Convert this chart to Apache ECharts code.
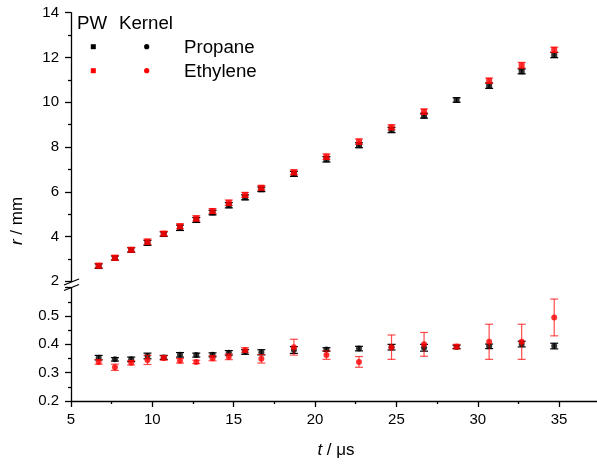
<!DOCTYPE html>
<html>
<head>
<meta charset="utf-8">
<script src="https://cdn.jsdelivr.net/npm/echarts@6/dist/echarts.min.js"></script>
<style>
  html, body { margin: 0; padding: 0; background: #fff; }
  #chart { width: 597px; height: 465px; }
</style>
</head>
<body>
<div id="chart"></div>
<script>
// Time after ignition, µs
const times = [6.7, 7.7, 8.7, 9.7, 10.7, 11.7, 12.7, 13.7, 14.7, 15.7, 16.7,
               18.7, 20.7, 22.7, 24.7, 26.7, 28.7, 30.7, 32.7, 34.7];

// Pressure-wave radius r (mm) and its uncertainty
const pwPropane     = [2.68, 3.04, 3.40, 3.72, 4.11, 4.39, 4.74, 5.07, 5.40, 5.75, 6.11,
                       6.80, 7.45, 8.08, 8.76, 9.40, 10.10, 10.74, 11.38, 12.11];
const pwPropaneErr  = [0.10, 0.09, 0.10, 0.11, 0.10, 0.12, 0.11, 0.10, 0.12, 0.11, 0.10,
                       0.11, 0.12, 0.11, 0.12, 0.11, 0.10, 0.12, 0.11, 0.12];
const pwEthylene    = [2.70, 3.05, 3.41, 3.77, 4.13, 4.46, 4.81, 5.14, 5.51, 5.86, 6.18,
                       6.87, 7.57, 8.24, 8.88, 9.58, null, 10.96, 11.65, 12.34];
const pwEthyleneErr = [0.10, 0.11, 0.10, 0.12, 0.10, 0.11, 0.12, 0.11, 0.12, 0.11, 0.10,
                       0.11, 0.12, 0.12, 0.11, 0.12, null, 0.12, 0.13, 0.12];

// Kernel radius r (mm) and its uncertainty
const kernelPropane     = [0.353, 0.347, 0.347, 0.359, 0.354, 0.363, 0.362, 0.363, 0.370, 0.373, 0.372,
                           0.380, 0.382, 0.385, 0.390, 0.388, 0.391, 0.393, 0.401, 0.394];
const kernelPropaneErr  = [0.008, 0.006, 0.008, 0.010, 0.007, 0.008, 0.007, 0.007, 0.008, 0.008, 0.009,
                           0.012, 0.006, 0.008, 0.010, 0.012, 0.006, 0.008, 0.010, 0.010];
const kernelEthylene    = [0.338, 0.319, 0.335, 0.345, 0.352, 0.342, 0.338, 0.351, 0.356, 0.380, 0.349,
                           0.390, 0.362, 0.338, 0.390, 0.400, 0.392, 0.409, 0.409, 0.495];
const kernelEthyleneErr = [0.008, 0.011, 0.008, 0.016, 0.008, 0.008, 0.006, 0.009, 0.010, 0.008, 0.015,
                           0.028, 0.015, 0.019, 0.043, 0.042, 0.008, 0.062, 0.062, 0.065];

// Axis tick values
const xTicks = [5, 10, 15, 20, 25, 30, 35];
const upperTicks = [2, 4, 6, 8, 10, 12, 14];
const lowerTicks = [0.2, 0.3, 0.4, 0.5];

const FONT = 'Liberation Sans, Arial, sans-serif';
const BLACK = '#000000';
const RED = '#ff0000';
const RED_BAR = 'rgba(255,0,0,0.7)';

function points(values, errs) {
  const out = [];
  times.forEach((t, i) => {
    if (values[i] != null) out.push([t, values[i], errs[i]]);
  });
  return out;
}

function errorBarRenderer(color) {
  return function (params, api) {
    const x = api.value(0), y = api.value(1), e = api.value(2);
    const hi = api.coord([x, y + e]);
    const lo = api.coord([x, y - e]);
    const half = 4;
    const style = { stroke: color, lineWidth: 1.2, fill: null };
    return {
      type: 'group',
      children: [
        { type: 'line', shape: { x1: hi[0], y1: hi[1], x2: lo[0], y2: lo[1] }, style },
        { type: 'line', shape: { x1: hi[0] - half, y1: hi[1], x2: hi[0] + half, y2: hi[1] }, style },
        { type: 'line', shape: { x1: lo[0] - half, y1: lo[1], x2: lo[0] + half, y2: lo[1] }, style }
      ]
    };
  };
}

const axisLineStyle = { color: BLACK, width: 1.3 };

const chart = echarts.init(document.getElementById('chart'), null, { renderer: 'canvas' });

// the x range runs past the right edge of the canvas, so the plot area is sized explicitly
const xCommon = {
  type: 'value', min: 5, max: 40, interval: 5,
  splitLine: { show: false }
};

chart.setOption({
  animation: false,
  backgroundColor: '#ffffff',
  grid: [
    { left: 71, width: 569.45, top: 12.7, height: 268.6, outerBoundsMode: 'none', containLabel: false },
    { left: 71, width: 569.45, top: 287.7, height: 113.3, outerBoundsMode: 'none', containLabel: false }
  ],
  xAxis: [
    Object.assign({}, xCommon, { gridIndex: 0, show: false }),
    Object.assign({}, xCommon, {
      gridIndex: 1,
      axisLine: { show: true, onZero: false, lineStyle: axisLineStyle },
      axisTick: { show: true, inside: false, length: 6, lineStyle: axisLineStyle },
      minorTick: { show: true, splitNumber: 2, length: 3, lineStyle: axisLineStyle },
      axisLabel: { show: true, margin: 11, fontSize: 15, fontFamily: FONT, color: BLACK,
                   formatter: v => (xTicks.indexOf(v) >= 0 ? String(v) : '') }
    })
  ],
  yAxis: [
    {
      type: 'value', gridIndex: 0, min: 2, max: 14, interval: 2,
      splitLine: { show: false },
      axisLine: { show: true, onZero: false, lineStyle: axisLineStyle },
      axisTick: { show: true, inside: false, length: 6, lineStyle: axisLineStyle },
      minorTick: { show: true, splitNumber: 2, length: 3, lineStyle: axisLineStyle },
      axisLabel: { margin: 12, fontSize: 15, fontFamily: FONT, color: BLACK,
                   formatter: v => (upperTicks.indexOf(v) >= 0 ? String(v) : '') }
    },
    {
      type: 'value', gridIndex: 1, min: 0.2, max: 0.6, interval: 0.1,
      splitLine: { show: false },
      axisLine: { show: true, onZero: false, lineStyle: axisLineStyle },
      axisTick: { show: true, inside: false, length: 6, lineStyle: axisLineStyle },
      minorTick: { show: true, splitNumber: 2, length: 3, lineStyle: axisLineStyle },
      axisLabel: { margin: 12, fontSize: 15, fontFamily: FONT, color: BLACK,
                   formatter: v => {
                     const hit = lowerTicks.find(t => Math.abs(t - v) < 1e-6);
                     return hit != null ? hit.toFixed(1) : '';
                   } }
    }
  ],
  series: [
    // pressure wave
    { name: 'PW Propane error', type: 'custom', xAxisIndex: 0, yAxisIndex: 0, z: 2, silent: true,
      renderItem: errorBarRenderer(BLACK), encode: { x: 0, y: 1 },
      data: points(pwPropane, pwPropaneErr) },
    { name: 'PW Propane', type: 'scatter', xAxisIndex: 0, yAxisIndex: 0, z: 3, silent: true,
      symbol: 'rect', symbolSize: 6, itemStyle: { color: BLACK },
      data: points(pwPropane, pwPropaneErr).map(p => [p[0], p[1]]) },
    { name: 'PW Ethylene error', type: 'custom', xAxisIndex: 0, yAxisIndex: 0, z: 4, silent: true,
      renderItem: errorBarRenderer(RED_BAR), encode: { x: 0, y: 1 },
      data: points(pwEthylene, pwEthyleneErr) },
    { name: 'PW Ethylene', type: 'scatter', xAxisIndex: 0, yAxisIndex: 0, z: 5, silent: true,
      symbol: 'rect', symbolSize: 6, itemStyle: { color: RED },
      data: points(pwEthylene, pwEthyleneErr).map(p => [p[0], p[1]]) },
    // flame kernel
    { name: 'Kernel Propane error', type: 'custom', xAxisIndex: 1, yAxisIndex: 1, z: 2, silent: true,
      renderItem: errorBarRenderer(BLACK), encode: { x: 0, y: 1 },
      data: points(kernelPropane, kernelPropaneErr) },
    { name: 'Kernel Propane', type: 'scatter', xAxisIndex: 1, yAxisIndex: 1, z: 3, silent: true,
      symbol: 'circle', symbolSize: 6, itemStyle: { color: BLACK },
      data: points(kernelPropane, kernelPropaneErr).map(p => [p[0], p[1]]) },
    { name: 'Kernel Ethylene error', type: 'custom', xAxisIndex: 1, yAxisIndex: 1, z: 4, silent: true,
      renderItem: errorBarRenderer(RED_BAR), encode: { x: 0, y: 1 },
      data: points(kernelEthylene, kernelEthyleneErr) },
    { name: 'Kernel Ethylene', type: 'scatter', xAxisIndex: 1, yAxisIndex: 1, z: 5, silent: true,
      symbol: 'circle', symbolSize: 6, itemStyle: { color: RED },
      data: points(kernelEthylene, kernelEthyleneErr).map(p => [p[0], p[1]]) }
  ],
  graphic: [
    // axis break marks
    { type: 'line', z: 100, shape: { x1: 64, y1: 285, x2: 79, y2: 279 },
      style: { stroke: BLACK, lineWidth: 1.3 } },
    { type: 'line', z: 100, shape: { x1: 64, y1: 290.5, x2: 79, y2: 284.5 },
      style: { stroke: BLACK, lineWidth: 1.3 } },
    // axis titles
    { type: 'text', z: 100, x: 17, y: 221, rotation: Math.PI / 2,
      style: { text: '{i|r} / mm', fontSize: 17, fontFamily: FONT, fill: BLACK,
               align: 'center', verticalAlign: 'middle',
               rich: { i: { fontStyle: 'italic', fontSize: 17, fontFamily: FONT, fill: BLACK } } } },
    { type: 'text', z: 100, x: 336, y: 450,
      style: { text: '{i|t} / μs', fontSize: 17, fontFamily: FONT, fill: BLACK,
               align: 'center', verticalAlign: 'middle',
               rich: { i: { fontStyle: 'italic', fontSize: 17, fontFamily: FONT, fill: BLACK } } } },
    // key
    { type: 'text', z: 100, x: 77, y: 24,
      style: { text: 'PW', fontSize: 18.7, fontFamily: FONT, fill: BLACK, verticalAlign: 'middle' } },
    { type: 'text', z: 100, x: 119, y: 24,
      style: { text: 'Kernel', fontSize: 18.7, fontFamily: FONT, fill: BLACK, verticalAlign: 'middle' } },
    { type: 'rect', z: 100, shape: { x: 90.8, y: 44.2, width: 5, height: 5 }, style: { fill: BLACK } },
    { type: 'rect', z: 100, shape: { x: 90.8, y: 68.2, width: 5, height: 5 }, style: { fill: RED } },
    { type: 'circle', z: 100, shape: { cx: 146.7, cy: 46.7, r: 2.6 }, style: { fill: BLACK } },
    { type: 'circle', z: 100, shape: { cx: 146.7, cy: 70.7, r: 2.6 }, style: { fill: RED } },
    { type: 'text', z: 100, x: 184, y: 48,
      style: { text: 'Propane', fontSize: 18.7, fontFamily: FONT, fill: BLACK, verticalAlign: 'middle' } },
    { type: 'text', z: 100, x: 184, y: 72,
      style: { text: 'Ethylene', fontSize: 18.7, fontFamily: FONT, fill: BLACK, verticalAlign: 'middle' } }
  ]
});
</script>
</body>
</html>
